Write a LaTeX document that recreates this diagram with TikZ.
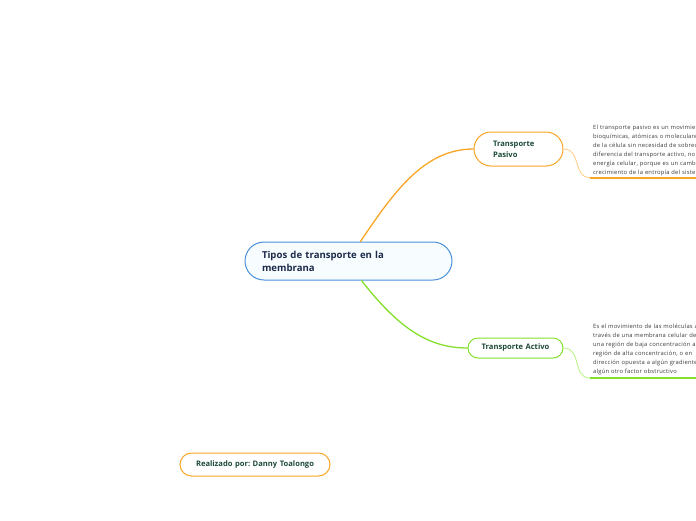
\documentclass[tikz,border=0pt]{standalone}
\usepackage{fontspec}
\setmainfont{Open Sans}
\newfontfamily\notefont[LetterSpace=4]{Open Sans}
\frenchspacing
\usetikzlibrary{positioning}
\definecolor{mapblue}{HTML}{4A90D9}
\definecolor{mapfill}{HTML}{F7FCFF}
\definecolor{maporange}{HTML}{FAA526}
\definecolor{maplorange}{HTML}{FFCB80}
\definecolor{mapgreen}{HTML}{84E02C}
\definecolor{maplgreen}{HTML}{B6F07E}
\definecolor{mapnavy}{HTML}{1B2A4A}
\definecolor{mapdark}{HTML}{1D4A36}
\definecolor{mapgray}{HTML}{3A3A3A}

\begin{document}
\begin{tikzpicture}[x=1pt,y=-1pt]

\tikzset{
topic/.style={
    draw=mapblue,
    line width=1pt,
    fill=mapfill,
    rounded corners=19pt,
    minimum height=38pt,
    text width=173pt,
    inner xsep=17pt,
    align=left,
    text=mapnavy,
    font=\fontsize{9.6}{13}\selectfont\bfseries
},
sub/.style={
    draw=maporange,
    line width=1pt,
    fill=white,
    text=mapdark,
    font=\fontsize{7.6}{11}\selectfont\bfseries
},
note/.style={
    anchor=base west,
    inner sep=0pt,
    text width=200pt,
    align=left,
    text=mapgray,
    font=\notefont\fontsize{5.8}{9}\selectfont
},
link/.style={line width=1.3pt,line cap=round},
twig/.style={line width=0.8pt}
}

\useasboundingbox (0,0) rectangle (696,520);

\node[topic] (tipos) at (348.5,261) {Tipos de transporte en la\\membrana};
\node[sub,rounded corners=17pt,minimum height=34pt,text width=51pt,inner xsep=19pt,align=left] (pasivo) at (518.5,149) {Transporte\\Pasivo};
\node[sub,draw=mapgreen,rounded corners=10pt,minimum height=20pt,text width=95pt,inner xsep=0pt,align=center] (activo) at (515.5,348) {Transporte Activo};
\node[sub,rounded corners=11.5pt,minimum height=23pt,text width=150pt,inner xsep=0pt,align=center] (autor) at (255,464.5) {Realizado por: Danny Toalongo};

\node[note] (npasivo) at (593,129) {El transporte pasivo es un movimiento\\bioquímicas, atómicas o moleculares\\de la célula sin necesidad de sobrecarga\\diferencia del transporte activo, no requiere\\energía celular, porque es un cambio\\crecimiento de la entropía del sistema};
\node[note] (nactivo) at (593,328) {Es el movimiento de las moléculas a\\través de una membrana celular desde\\una región de baja concentración a una\\región de alta concentración, o en\\dirección opuesta a algún gradiente\\algún otro factor obstructivo};

\coordinate (lpasivo) at (590,177.5);
\coordinate (lactivo) at (590,378);

\draw[link,maporange] ([xshift=12pt]tipos.north) .. controls (395,190) and (425,149) .. (pasivo.west);
\draw[link,mapgreen] ([xshift=13pt]tipos.south) .. controls (400,330) and (430,348) .. (activo.west);

\draw[twig,maplorange] (pasivo.east) .. controls (582,149) and (572,177.5) .. (lpasivo);
\draw[twig,maplgreen] (activo.east) .. controls (582,348) and (572,378) .. (lactivo);

\draw[maporange,line width=2pt] (lpasivo) -- ++(110,0);
\draw[mapgreen,line width=2pt] (lactivo) -- ++(110,0);

\end{tikzpicture}
\end{document}
